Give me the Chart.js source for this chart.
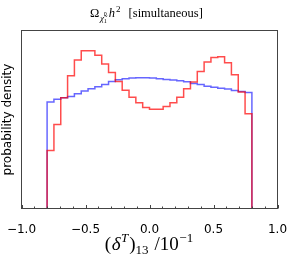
<!DOCTYPE html>
<html>
<head>
<meta charset="utf-8">
<script src="https://cdn.jsdelivr.net/npm/chart.js@4"></script>
<style>
  html, body { margin: 0; padding: 0; background: #fff; }
  #wrap { width: 296px; height: 261px; }
</style>
</head>
<body>
<div id="wrap"><canvas id="histChart" width="296" height="261"></canvas></div>
<script>
// histogram bins: 30 equal bins between -0.8 and 0.8
const BIN_LO = -0.8;
const BIN_HI = 0.8;
const N_BINS = 30;

// probability density per bin
const redDensity = [0.295, 0.427, 0.563, 0.675, 0.755, 0.802, 0.802, 0.779, 0.735, 0.691,
                    0.646, 0.601, 0.565, 0.538, 0.514, 0.504, 0.504, 0.518, 0.538, 0.566,
                    0.609, 0.643, 0.697, 0.745, 0.768, 0.772, 0.741, 0.680, 0.592, 0.482];
const blueDensity = [0.541, 0.555, 0.563, 0.570, 0.584, 0.597, 0.609, 0.619, 0.631, 0.646,
                     0.655, 0.660, 0.663, 0.665, 0.665, 0.663, 0.660, 0.656, 0.653, 0.650,
                     0.644, 0.635, 0.630, 0.622, 0.617, 0.612, 0.607, 0.600, 0.595, 0.590];
const xTicks = [-1.0, -0.5, 0.0, 0.5, 1.0];
const Y_MAX = 0.905;

const binEdges = [];
for (let i = 0; i <= N_BINS; i++) binEdges.push(BIN_LO + (BIN_HI - BIN_LO) * i / N_BINS);

// step outline like matplotlib histtype='step'
function stepPoints(vals) {
  const pts = [{ x: binEdges[0], y: 0 }];
  vals.forEach((v, i) => pts.push({ x: binEdges[i], y: v }));
  pts.push({ x: binEdges[N_BINS], y: vals[vals.length - 1] });
  pts.push({ x: binEdges[N_BINS], y: 0 });
  return pts;
}

function setFont(ctx, r) {
  ctx.font = (r.italic ? "italic " : "") + r.size + "px 'Liberation Serif'";
}

function runsWidth(ctx, runs) {
  let w = 0;
  for (const r of runs) {
    setFont(ctx, r);
    if (!r.stay) w += ctx.measureText(r.t).width + (r.gap || 0);
  }
  return w;
}

function drawRuns(ctx, runs, x, baseY) {
  for (const r of runs) {
    setFont(ctx, r);
    ctx.fillText(r.t, x, baseY + (r.dy || 0));
    if (!r.stay) x += ctx.measureText(r.t).width + (r.gap || 0);
  }
}

const decorations = {
  id: "decorations",
  afterDatasetsDraw(chart) {
    const { ctx, chartArea: a, scales } = chart;
    const xs = scales.x;
    ctx.save();
    // frame
    ctx.strokeStyle = "#444";
    ctx.lineWidth = 1;
    ctx.strokeRect(a.left, a.top, a.right - a.left, a.bottom - a.top);
    // inward ticks on the bottom axis
    ctx.beginPath();
    for (let k = -10; k <= 10; k++) {
      const px = Math.round(xs.getPixelForValue(k / 10)) + 0.5;
      const len = k % 5 === 0 ? 3.5 : 2;
      ctx.moveTo(px, a.bottom);
      ctx.lineTo(px, a.bottom - len);
    }
    ctx.stroke();

    ctx.fillStyle = "#000";
    ctx.textBaseline = "alphabetic";
    ctx.textAlign = "left";

    // title
    const titleRuns = [
      { t: "\u03A9", size: 12.5, gap: 0.5 },
      { t: "\u03C7\u0303", size: 9, italic: true, dy: 3.5 },
      { t: "0", size: 6, dy: -1, stay: true },
      { t: "1", size: 6, dy: 6, gap: 2 },
      { t: "h", size: 12.5, italic: true, gap: 1 },
      { t: "2", size: 9, dy: -5, gap: 8 },
      { t: "[simultaneous]", size: 12.5 }
    ];
    const tw = runsWidth(ctx, titleRuns);
    drawRuns(ctx, titleRuns, 146.5 - tw / 2, 17);

    // x axis label
    const xRuns = [
      { t: "(", size: 19, gap: 0.5 },
      { t: "\u03B4", size: 19, italic: true, gap: 0.5 },
      { t: "T", size: 13, italic: true, dy: -8.5, gap: 1 },
      { t: ")", size: 19 },
      { t: "13", size: 13, dy: 4, gap: 6 },
      { t: "/10", size: 19, gap: 0.5 },
      { t: "\u22121", size: 13, dy: -8.5 }
    ];
    const xw = runsWidth(ctx, xRuns);
    drawRuns(ctx, xRuns, 149 - xw / 2, 250);

    // y axis label
    ctx.translate(8, (a.top + a.bottom) / 2);
    ctx.rotate(-Math.PI / 2);
    ctx.font = "12px 'DejaVu Sans'";
    ctx.textAlign = "center";
    ctx.textBaseline = "middle";
    ctx.fillText("probability density", 0, 0);
    ctx.restore();
  }
};

const ctx = document.getElementById("histChart").getContext("2d");
new Chart(ctx, {
  type: "line",
  data: {
    datasets: [
      {
        label: "red",
        data: stepPoints(redDensity),
        borderColor: "rgba(255,0,0,0.7)",
        borderWidth: 1.5,
        stepped: "before",
        pointRadius: 0,
        fill: false
      },
      {
        label: "blue",
        data: stepPoints(blueDensity),
        borderColor: "rgba(0,0,255,0.6)",
        borderWidth: 1.5,
        stepped: "before",
        pointRadius: 0,
        fill: false
      }
    ]
  },
  options: {
    responsive: false,
    animation: false,
    layout: { padding: { left: 21.5, right: 18.5, top: 30.5, bottom: 0 } },
    plugins: { legend: { display: false }, tooltip: { enabled: false }, title: { display: false } },
    scales: {
      x: {
        type: "linear",
        min: -1,
        max: 1,
        afterFit(s) { s.height = 52.5; },
        afterBuildTicks(s) { s.ticks = xTicks.map(v => ({ value: v })); },
        grid: { display: false },
        border: { display: false },
        ticks: {
          padding: 6,
          color: "#000",
          font: { family: "DejaVu Sans", size: 12 },
          callback: v => (v < 0 ? "\u2212" : "") + Math.abs(v).toFixed(1)
        }
      },
      y: {
        min: 0,
        max: Y_MAX,
        afterFit(s) { s.width = 0; },
        grid: { display: false },
        border: { display: false },
        ticks: { display: false }
      }
    }
  },
  plugins: [decorations]
});
</script>
</body>
</html>
